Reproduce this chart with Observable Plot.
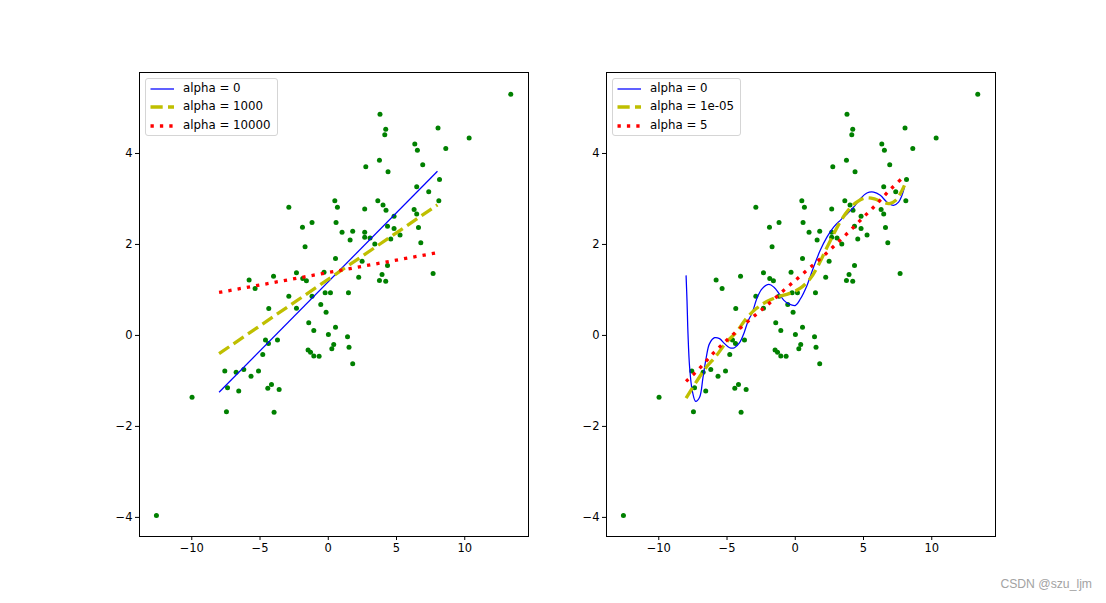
<!DOCTYPE html>
<html>
<head>
<meta charset="utf-8">
<script src="https://cdn.jsdelivr.net/npm/d3@7"></script>
<script src="https://cdn.jsdelivr.net/npm/@observablehq/plot@0.6"></script>
<style>
  html, body { margin: 0; padding: 0; background: #fff; }
  #root { position: relative; width: 1106px; height: 603px; overflow: hidden; font-family: "DejaVu Sans", sans-serif; }
  .panel { position: absolute; top: 50px; }
  .legend { position: absolute; top: 78px; height: 56px; border: 1px solid #d5d5d5; border-radius: 3px; background: rgba(255,255,255,0.8); font-size: 11.8px; color: #000; }
  .legend .row { position: absolute; left: 0; height: 18px; }
  .legend svg { position: absolute; left: 4px; top: 3px; }
  .legend span { position: absolute; left: 37px; top: 1px; white-space: nowrap; }
  #wm { position: absolute; right: 14px; top: 577px; font-family: "Liberation Sans", Arial, sans-serif; font-size: 12.2px; color: #a3a3a3; }
</style>
</head>
<body>
<div id="root"></div>
<script>
// ---- data: scatter sample (same in both panels) ----
const pointX = [3.79, 8.04, 4.21, 4.14, 6.34, 6.53, 3.75, 6.92, 2.75, 4.38, 8.15, 6.48, 7.36, 8.10, 0.48, 3.63, 4.01, 0.67, -2.89, 2.67,
  4.23, 6.29, 6.48, 4.82, 0.57, -1.19, -1.89, 4.34, 6.61, 4.82, 1.01, 1.79, 2.67, 5.26, 1.60, 2.67, 3.06, 4.58, 6.78, 3.41,
  -1.70, 0.53, 2.48, 4.34, -2.33, -0.31, 7.68, 3.94, 2.23, -1.87, -1.60, 3.75, 4.21, -0.23, 0.16, 1.48, -2.89, -1.19, -0.55, -2.33,
  -0.16, -1.43, 0.53, -1.06, 0.01, 1.41, 0.40, 0.26, 1.52, -1.48, -1.30, -1.06, -0.67, 1.79, -4.01, -5.80, -5.36, -4.36, -4.60, -4.38,
  -3.72, -4.80, -7.58, -6.75, -6.19, -5.66, -5.11, -7.38, -6.56, -4.43, -4.16, -3.60, -9.98, -7.46, -3.97, -12.59, 13.37, 10.32, 8.61];
const pointY = [4.86, 4.56, 4.53, 4.41, 4.21, 4.07, 3.85, 3.75, 3.71, 3.60, 3.43, 3.27, 3.16, 2.96, 2.96, 2.96, 2.87, 2.82, 2.82, 2.78,
  2.75, 2.77, 2.67, 2.62, 2.48, 2.48, 2.38, 2.40, 2.37, 2.35, 2.27, 2.29, 2.27, 2.21, 2.10, 2.16, 2.14, 2.12, 2.04, 2.01,
  1.95, 1.69, 1.63, 1.54, 1.38, 1.39, 1.36, 1.34, 1.28, 1.25, 1.20, 1.21, 1.19, 0.94, 0.94, 0.94, 0.86, 0.86, 0.68, 0.60,
  0.51, 0.28, 0.18, 0.11, 0.02, -0.03, -0.20, -0.29, -0.26, -0.32, -0.37, -0.45, -0.46, -0.62, 1.30, 1.22, 1.03, 0.59, -0.10, -0.18,
  -0.10, -0.42, -0.78, -0.81, -0.75, -0.90, -0.78, -1.15, -1.22, -1.16, -1.08, -1.19, -1.36, -1.68, -1.69, -3.96, 5.30, 4.34, 4.11];

// ---- left panel fits ----
const leftFitX = [-8, 8];
const leftAlpha0Y = [-1.25, 3.61];
const leftAlpha1000Y = [-0.40, 2.87];
const leftAlpha10000Y = [0.945, 1.82];
const leftLabels = ["alpha = 0", "alpha = 1000", "alpha = 10000"];

// ---- right panel fits ----
const rightAlpha0X = [-8.0, -7.93, -7.86, -7.74, -7.55, -7.30, -7.01, -6.76, -6.52, -6.28, -5.91, -5.55, -5.18, -4.81, -4.45, -4.08,
  -3.76, -3.44, -3.15, -2.78, -2.42, -1.93, -1.56, -1.19, -0.83, -0.46, 0.02, 0.37, 0.86, 1.34, 1.83, 2.32, 2.81, 3.30, 3.79, 4.28,
  4.76, 5.25, 5.74, 6.23, 6.72, 7.20, 7.57, 7.82, 8.0];
const rightAlpha0Y = [1.32, 0.75, 0.04, -0.70, -1.21, -1.45, -1.36, -0.92, -0.48, -0.18, -0.05, -0.07, -0.18, -0.27, -0.27, -0.16,
  0.05, 0.33, 0.50, 0.84, 1.03, 1.12, 1.06, 0.92, 0.77, 0.69, 0.66, 0.80, 1.10, 1.50, 1.87, 2.16, 2.38, 2.53, 2.67, 2.82,
  3.00, 3.13, 3.15, 3.08, 2.93, 2.86, 2.93, 3.08, 3.26];
const rightAlpha1X = [-8.0, -7.25, -6.52, -5.79, -5.05, -4.32, -3.59, -2.86, -2.05, -1.19, -0.46, 0.37, 1.10, 1.70, 2.30, 2.85,
  3.30, 3.90, 4.50, 5.10, 5.80, 6.40, 6.90, 7.40, 8.0];
const rightAlpha1Y = [-1.38, -1.02, -0.70, -0.45, -0.15, 0.07, 0.37, 0.59, 0.75, 0.86, 0.92, 1.04, 1.25, 1.55, 1.92, 2.25,
  2.50, 2.76, 2.93, 3.02, 3.00, 2.93, 2.90, 2.98, 3.30];
const rightAlpha5X = [-8, -7, -6, -5, -4, -3, -2, -1, 0, 1, 2, 3, 4, 5, 6, 7, 8];
const rightAlpha5Y = [-1.01, -0.72, -0.39, -0.10, 0.17, 0.43, 0.68, 0.95, 1.21, 1.47, 1.73, 2.01, 2.30, 2.60, 2.90, 3.22, 3.50];
const rightLabels = ["alpha = 0", "alpha = 1e-05", "alpha = 5"];

const xTicks = [-10, -5, 0, 5, 10];
const yTicks = [-4, -2, 0, 2, 4];

// ---- styles ----
const seriesStyles = [
  {stroke: "#0000ff", strokeWidth: 1.25, dash: null},
  {stroke: "#bfbf00", strokeWidth: 3.3, dash: "12.2,5.3"},
  {stroke: "#ff0000", strokeWidth: 3.3, dash: "3.3,6.1"}
];

const points = pointX.map((x, i) => ({x, y: pointY[i]}));
const zip = (xs, ys) => xs.map((x, i) => ({x, y: ys[i]}));

function panel(series, curve) {
  const lineMarks = series.map((data, i) => Plot.line(data, {
    x: "x", y: "y", curve,
    stroke: seriesStyles[i].stroke,
    strokeWidth: seriesStyles[i].strokeWidth,
    strokeDasharray: seriesStyles[i].dash,
    strokeLinecap: "butt", strokeLinejoin: "round"
  }));
  return Plot.plot({
    width: 440, height: 520,
    marginLeft: 39, marginRight: 12, marginTop: 22, marginBottom: 34,
    x: {domain: [-13.83, 14.67]},
    y: {domain: [-4.42, 5.78]},
    style: {fontFamily: "DejaVu Sans", fontSize: "11.5px", color: "#000", background: "transparent", overflow: "visible"},
    marks: [
      Plot.axisX({ticks: xTicks, tickSize: 4, tickPadding: 3, label: null, fontSize: 11.5}),
      Plot.axisY({ticks: yTicks, tickSize: 4, tickPadding: 3, label: null, fontSize: 11.5}),
      Plot.dot(points, {x: "x", y: "y", r: 2.5, fill: "#008000", stroke: "none"}),
      ...lineMarks,
      Plot.frame({stroke: "#000", strokeWidth: 1})
    ]
  });
}

function legend(labels, left, width) {
  const div = document.createElement("div");
  div.className = "legend";
  div.style.left = left + "px";
  div.style.width = width + "px";
  labels.forEach((lab, i) => {
    const st = seriesStyles[i];
    const row = document.createElement("div");
    row.className = "row";
    row.style.top = (1 + i * 18.3) + "px";
    row.style.width = width + "px";
    row.innerHTML = `<svg width="26" height="12"><line x1="0.5" x2="24" y1="6" y2="6" stroke="${st.stroke}" stroke-width="${st.strokeWidth}" ${st.dash ? `stroke-dasharray="${st.dash}"` : ""} stroke-linecap="butt"/></svg><span>${lab}</span>`;
    div.appendChild(row);
  });
  return div;
}

const root = document.getElementById("root");

const leftSvg = panel([zip(leftFitX, leftAlpha0Y), zip(leftFitX, leftAlpha1000Y), zip(leftFitX, leftAlpha10000Y)], "linear");
const leftWrap = document.createElement("div");
leftWrap.className = "panel"; leftWrap.style.left = "100px";
leftWrap.appendChild(leftSvg);
root.appendChild(leftWrap);

const rightSvg = panel([zip(rightAlpha0X, rightAlpha0Y), zip(rightAlpha1X, rightAlpha1Y), zip(rightAlpha5X, rightAlpha5Y)], "catmull-rom");
const rightWrap = document.createElement("div");
rightWrap.className = "panel"; rightWrap.style.left = "567px";
rightWrap.appendChild(rightSvg);
root.appendChild(rightWrap);

root.appendChild(legend(leftLabels, 145, 131));
root.appendChild(legend(rightLabels, 612, 127));

const wm = document.createElement("div");
wm.id = "wm"; wm.textContent = "CSDN @szu_ljm";
root.appendChild(wm);
</script>
</body>
</html>
